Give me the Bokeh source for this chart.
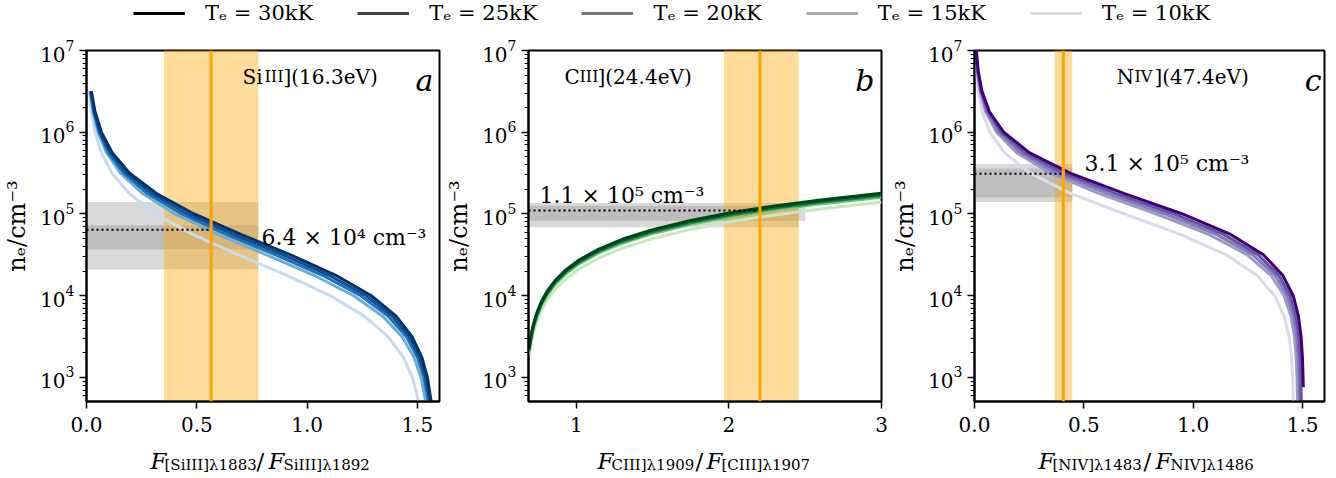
from bokeh.plotting import figure
from bokeh.models import (Range1d, Label, Span, Legend, LegendItem, FixedTicker,
                          PrintfTickFormatter)
from bokeh.layouts import column, row
from bokeh.embed import file_html
from bokeh.resources import INLINE

nan = float("nan")

temps_kK = [30, 25, 20, 15, 10]
legend_colors = ["#000000", "#444444", "#777777", "#aaaaaa", "#dddddd"]
blues = ["#08306b", "#08519c", "#2171b5", "#6baed6", "#c6dbef"]
greens = ["#00441b", "#006d2c", "#238b45", "#74c476", "#c7e9c0"]
purples = ["#3f007d", "#6a51a3", "#807dba", "#9e9ac8", "#dadaeb"]

# Panel a: SiIII] ratio vs density (one ratio list per temperature, 30kK first)
logne_a = [2.7, 3.0, 3.25, 3.5, 3.75, 4.0, 4.25, 4.5, 4.75, 5.0, 5.25, 5.5, 5.75, 6.0, 6.25, 6.5]
ratio_a = [
    [1.5625, 1.5454, 1.5195, 1.4755, 1.4033, 1.2910, 1.1301, 0.9251, 0.6995, 0.4878, 0.3172, 0.1956, 0.1163, 0.0676, 0.0387, 0.0220],
    [1.5561, 1.5377, 1.5098, 1.4627, 1.3859, 1.2674, 1.1002, 0.8912, 0.6661, 0.4596, 0.2963, 0.1816, 0.1075, 0.0623, 0.0357, 0.0203],
    [1.5496, 1.5298, 1.4999, 1.4494, 1.3677, 1.2430, 1.0697, 0.8571, 0.6333, 0.4325, 0.2765, 0.1685, 0.0994, 0.0575, 0.0329, 0.0187],
    [1.5378, 1.5163, 1.4839, 1.4296, 1.3423, 1.2108, 1.0312, 0.8159, 0.5950, 0.4016, 0.2545, 0.1541, 0.0906, 0.0523, 0.0298, 0.0169],
    [1.5056, 1.4775, 1.4357, 1.3668, 1.2595, 1.1051, 0.9073, 0.6882, 0.4815, 0.3139, 0.1939, 0.1154, 0.0671, 0.0385, 0.0219, 0.0124],
]

# Panel b: CIII] ratio grid, one density list per temperature
ratio_b = [0.69, 0.695, 0.70, 0.71, 0.72, 0.74, 0.77, 0.81, 0.86, 0.93, 1.02, 1.15, 1.30, 1.50, 1.75, 2.00, 2.30, 2.60, 3.00]
ne_b = [
    [2298, 2681, 3064, 3830, 4596, 6128, 8426, 11490, 15320, 20682, 27576, 37534, 49024, 64344, 83494, 102644, 125624, 148604, 179244],
    [2220, 2590, 2960, 3700, 4440, 5920, 8140, 11100, 14800, 19980, 26640, 36260, 47360, 62160, 80660, 99160, 121360, 143560, 173160],
    [2145, 2503, 2860, 3575, 4290, 5720, 7865, 10725, 14300, 19305, 25740, 35035, 45760, 60060, 77935, 95810, 117260, 138710, 167310],
    [2055, 2398, 2740, 3425, 4110, 5480, 7535, 10275, 13700, 18495, 24660, 33565, 43840, 57540, 74665, 91790, 112340, 132890, 160290],
    [1782, 2079, 2376, 2970, 3564, 4752, 6534, 8910, 11880, 16038, 21384, 29106, 38016, 49896, 64746, 79596, 97416, 115236, 138996],
]

# Panel c: NIV] ratio vs density
logne_c = [2.7, 2.88, 3.0, 3.25, 3.5, 3.75, 4.0, 4.25, 4.5, 4.75, 5.0, 5.25, 5.5, 5.75, 6.0, 6.25, 6.5, 6.75, 7.0, 7.2]
ratio_c = [
    [nan, 1.503, 1.502, 1.499, 1.493, 1.481, 1.457, 1.409, 1.321, 1.171, 0.9505, 0.6858, 0.4367, 0.2505, 0.1338, 0.0684, 0.0342, 0.0169, 0.0083, 0.0047],
    [1.4937, 1.4928, 1.4919, 1.4887, 1.4821, 1.4688, 1.4424, 1.3912, 1.2967, 1.1385, 0.9109, 0.6463, 0.4053, 0.2298, 0.1218, 0.0621, 0.0310, 0.0153, 0.0075, 0.0042],
    [1.4856, 1.4846, 1.4836, 1.4801, 1.4729, 1.4584, 1.4297, 1.3743, 1.2730, 1.1063, 0.8723, 0.6085, 0.3760, 0.2109, 0.1110, 0.0564, 0.0281, 0.0138, 0.0068, 0.0038],
    [1.4764, 1.4754, 1.4743, 1.4704, 1.4626, 1.4468, 1.4155, 1.3553, 1.2469, 1.0714, 0.8317, 0.5704, 0.3471, 0.1927, 0.1008, 0.0510, 0.0254, 0.0125, 0.0061, 0.0035],
    [1.4577, 1.4562, 1.4547, 1.4492, 1.4380, 1.4156, 1.3720, 1.2905, 1.1504, 0.9414, 0.6861, 0.4412, 0.2548, 0.1367, 0.0701, 0.0351, 0.0174, 0.0085, 0.0042, 0.0024],
]

# Measurements (a, b, c)
measured_ratio = [0.565, 2.203, 0.406]
ratio_lo = [0.351, 1.967, 0.366]
ratio_hi = [0.779, 2.457, 0.447]
measured_ne = [6.4e4, 1.1e5, 3.1e5]
measured_text = ["6.4 × 10⁴ cm⁻³", "1.1 × 10⁵ cm⁻³", "3.1 × 10⁵ cm⁻³"]
ne_outer_lo = [2.1e4, 6.9e4, 1.4e5]
ne_outer_hi = [1.4e5, 1.36e5, 4.1e5]
ne_inner_lo = [3.7e4, 8.2e4, 1.6e5]
ne_inner_hi = [7.3e4, 1.26e5, 3.6e5]
inner_right = [0.779, 2.50, 0.447]

x_ranges = [(0.0, 1.6), (0.686, 3.0), (0.0, 1.6)]
x_ticks = [[0, 0.5, 1.0, 1.5], [1, 2, 3], [0, 0.5, 1.0, 1.5]]
x_formats = ["%.1f", "%d", "%.1f"]

FONT = "DejaVu Serif"


def add_text(p, x, y, text, size, style="normal", align="left"):
    p.add_layout(Label(x=x, y=y, x_units="screen", y_units="screen", text=text,
                       text_font=FONT, text_font_size=f"{size}px",
                       text_font_style=style, text_align=align,
                       text_baseline="alphabetic", text_color="black"))


def make_panel(i, width, left, right):
    p = figure(width=width, height=411, x_range=Range1d(*x_ranges[i]),
               y_range=Range1d(508, 1e7), y_axis_type="log",
               toolbar_location=None, output_backend="svg",
               min_border_left=left, min_border_right=right,
               min_border_top=20, min_border_bottom=40)
    p.grid.visible = False
    p.outline_line_color = "black"
    p.outline_line_width = 2
    p.background_fill_color = "white"
    p.border_fill_color = "white"
    for ax in (p.xaxis[0], p.yaxis[0]):
        ax.axis_line_width = 2
        ax.major_tick_line_width = 1.5
        ax.minor_tick_line_width = 1
        ax.major_tick_in = 0
        ax.major_tick_out = 7
        ax.minor_tick_in = 0
        ax.minor_tick_out = 4
        ax.major_label_text_font = FONT
        ax.major_label_text_font_size = "20px"
        ax.major_label_text_color = "black"
    p.xaxis.ticker = FixedTicker(ticks=x_ticks[i])
    p.xaxis.formatter = PrintfTickFormatter(format=x_formats[i])
    p.xaxis.minor_tick_line_color = None
    p.xaxis.major_label_standoff = 8
    p.yaxis.major_label_standoff = 5
    p.yaxis.axis_label = "nₑ/cm⁻³"
    p.yaxis.axis_label_text_font = FONT
    p.yaxis.axis_label_text_font_size = "24px"
    p.yaxis.axis_label_text_font_style = "normal"
    p.yaxis.axis_label_text_color = "black"
    p.yaxis.axis_label_standoff = 6

    x0 = x_ranges[i][0]
    p.quad(left=[x0], right=[ratio_hi[i]], bottom=[ne_outer_lo[i]], top=[ne_outer_hi[i]],
           fill_color="gray", fill_alpha=0.3, line_color=None)
    p.quad(left=[x0], right=[inner_right[i]], bottom=[ne_inner_lo[i]], top=[ne_inner_hi[i]],
           fill_color="gray", fill_alpha=0.3, line_color=None)
    p.quad(left=[ratio_lo[i]], right=[ratio_hi[i]], bottom=[1e2], top=[1e8],
           fill_color="#ffa500", fill_alpha=0.4, line_color=None)
    return p


pa = make_panel(0, 442, 85, 3)
pb = make_panel(1, 446, 85, 7)
pc = make_panel(2, 448, 82, 12)
panels = [pa, pb, pc]

for k in reversed(range(5)):
    pa.line(ratio_a[k], [10 ** v for v in logne_a], line_color=blues[k], line_width=3)
    pb.line(ratio_b, ne_b[k], line_color=greens[k], line_width=3)
    pc.line(ratio_c[k], [10 ** v for v in logne_c], line_color=purples[k], line_width=3)

for i, p in enumerate(panels):
    x0 = x_ranges[i][0]
    p.line([x0, measured_ratio[i]], [measured_ne[i], measured_ne[i]],
           line_color="black", line_width=2, line_dash="2 3")
    p.add_layout(Span(location=measured_ratio[i], dimension="height",
                      line_color="#ffa500", line_width=3))

# Density annotations
add_text(pa, 175, 164, measured_text[0], 22)
add_text(pb, 11, 206, measured_text[1], 22)
add_text(pc, 110, 238, measured_text[2], 22)

# Ion titles
add_text(pa, 156, 325, "Si", 20)
add_text(pa, 178, 325, "III", 16)
add_text(pa, 197, 325, "](16.3eV)", 20)
add_text(pb, 36, 325, "C", 20)
add_text(pb, 51, 325, "III", 16)
add_text(pb, 69, 325, "](24.4eV)", 20)
add_text(pc, 142, 325, "N", 20)
add_text(pc, 160, 325, "IV", 16)
add_text(pc, 180, 325, "](47.4eV)", 20)

# Panel letters
add_text(pa, 347, 321, "a", 30, "italic", "right")
add_text(pb, 346, 321, "b", 30, "italic", "right")
add_text(pc, 347, 321, "c", 30, "italic", "right")

# Top strip: legend
strip = figure(width=1336, height=30, x_range=Range1d(0, 1), y_range=Range1d(0, 1),
               x_axis_type=None, y_axis_type=None, toolbar_location=None,
               output_backend="svg", min_border=0)
strip.outline_line_color = None
items = []
for t, c in zip(temps_kK, legend_colors):
    r = strip.line(x=[-5, -4], y=[-5, -5], line_color=c, line_width=3)
    items.append(LegendItem(label=f"Tₑ = {t}kK", renderers=[r]))
leg = Legend(items=items, orientation="horizontal", location=(133, 5),
             label_text_font=FONT, label_text_font_size="21px",
             label_text_color="black",
             glyph_width=52, glyph_height=20, label_height=20, label_standoff=20,
             spacing=44, padding=0, margin=0, border_line_color=None,
             background_fill_alpha=0)
strip.add_layout(leg)

# Bottom strip: x-axis labels composed with subscripts
bottom = figure(width=1336, height=37, x_range=Range1d(0, 1), y_range=Range1d(0, 1),
                x_axis_type=None, y_axis_type=None, toolbar_location=None,
                output_backend="svg", min_border=0)
bottom.outline_line_color = None
xl = [
    ([150, 164, 256, 268, 283], ["[SiIII]λ1883", "SiIII]λ1892"]),
    ([597, 611, 695, 706, 721], ["CIII]λ1909", "[CIII]λ1907"]),
    ([1038, 1052, 1143, 1155, 1170], ["[NIV]λ1483", "NIV]λ1486"]),
]
for xs, subs in xl:
    add_text(bottom, xs[0], 18, "F", 23, "italic")
    add_text(bottom, xs[1], 14, subs[0], 15)
    add_text(bottom, xs[2], 18, "/", 23)
    add_text(bottom, xs[3], 18, "F", 23, "italic")
    add_text(bottom, xs[4], 14, subs[1], 15)

layout = column(strip, row(pa, pb, pc), bottom)
open("out.html", "w").write(file_html(layout, INLINE))
